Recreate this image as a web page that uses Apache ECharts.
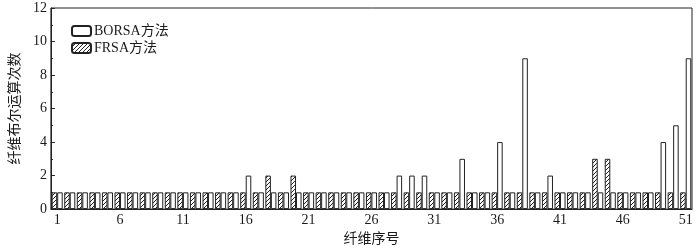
<!DOCTYPE html>
<html><head><meta charset="utf-8">
<script src="https://cdn.jsdelivr.net/npm/echarts@6/dist/echarts.min.js"></script>
<style>html,body{margin:0;padding:0;background:#fff}#c{width:700px;height:251px}</style>
</head><body><div id="c"></div>
<script>
const categories = ['1','2','3','4','5','6','7','8','9','10','11','12','13','14','15','16','17','18','19','20','21','22','23','24','25','26','27','28','29','30','31','32','33','34','35','36','37','38','39','40','41','42','43','44','45','46','47','48','49','50','51'];
const borsaValues = [1,1,1,1,1,1,1,1,1,1, 1,1,1,1,1,2,1,1,1,1, 1,1,1,1,1,1,1,2,2,2, 1,1,3,1,1,4,1,9,1,2, 1,1,1,1,1,1,1,1,4,5, 9];
const frsaValues  = [1,1,1,1,1,1,1,1,1,1, 1,1,1,1,1,1,1,2,1,2, 1,1,1,1,1,1,1,1,1,1, 1,1,1,1,1,1,1,1,1,1, 1,1,1,3,3,1,1,1,1,1, 1];
const yTicks = [0,2,4,6,8,10,12];

const FONT = '"Liberation Serif", "Noto Sans CJK SC", serif';
const TXT = '#1a1a1a';

function hatch() {
  const c = document.createElement('canvas');
  c.width = 4; c.height = 4;
  const g = c.getContext('2d');
  g.fillStyle = '#fff'; g.fillRect(0,0,4,4);
  g.strokeStyle = '#222'; g.lineWidth = 1;
  g.beginPath();
  g.moveTo(-1,5); g.lineTo(5,-1);
  g.moveTo(-1,1); g.lineTo(1,-1);
  g.moveTo(3,5); g.lineTo(5,3);
  g.stroke();
  return c;
}
const hatchPattern = { image: hatch(), repeat: 'repeat' };

const chart = echarts.init(document.getElementById('c'), null, {renderer:'canvas'});
chart.setOption({
  animation: false,
  grid: { left: 42, right: 8, top: 8, bottom: 39, show: true, borderColor: '#222', borderWidth: 1, backgroundColor: 'transparent' },
  legend: {
    orient: 'vertical', left: 66, top: 19, itemWidth: 19, itemHeight: 10, itemGap: 3,
    data: ['BORSA方法', 'FRSA方法'],
    textStyle: { fontFamily: FONT, fontSize: 14, color: TXT, padding: [0,0,0,-2] }
  },
  xAxis: {
    type: 'category', data: categories,
    name: '纤维序号', nameLocation: 'middle', nameGap: 22,
    nameTextStyle: { fontFamily: FONT, fontSize: 14, color: TXT },
    axisLine: { lineStyle: { color: '#222', width: 1 } },
    axisTick: { show: false },
    axisLabel: { interval: 4, fontFamily: FONT, fontSize: 14, color: TXT, margin: 4 }
  },
  yAxis: {
    type: 'value', min: yTicks[0], max: yTicks[yTicks.length-1], interval: 2,
    name: '纤维布尔运算次数', nameLocation: 'middle', nameGap: 22,
    nameTextStyle: { fontFamily: FONT, fontSize: 14, color: TXT },
    axisLine: { show: true, lineStyle: { color: '#222', width: 1 } },
    axisTick: { show: true, inside: true, length: 4, lineStyle: { color: '#222' } },
    minorTick: { show: true, splitNumber: 2, length: 2, lineStyle: { color: '#222' } },
    splitLine: { show: false },
    axisLabel: { fontFamily: FONT, fontSize: 14, color: TXT, margin: 4 }
  },
  series: [
    {
      name: 'FRSA方法', type: 'bar', data: frsaValues,
      barGap: '0%', barCategoryGap: '12%',
      itemStyle: { color: hatchPattern, borderColor: '#222', borderWidth: 1 }
    },
    {
      name: 'BORSA方法', type: 'bar', data: borsaValues,
      barGap: '0%', barCategoryGap: '12%',
      itemStyle: { color: '#fff', borderColor: '#222', borderWidth: 1 }
    }
  ]
});
</script></body></html>
